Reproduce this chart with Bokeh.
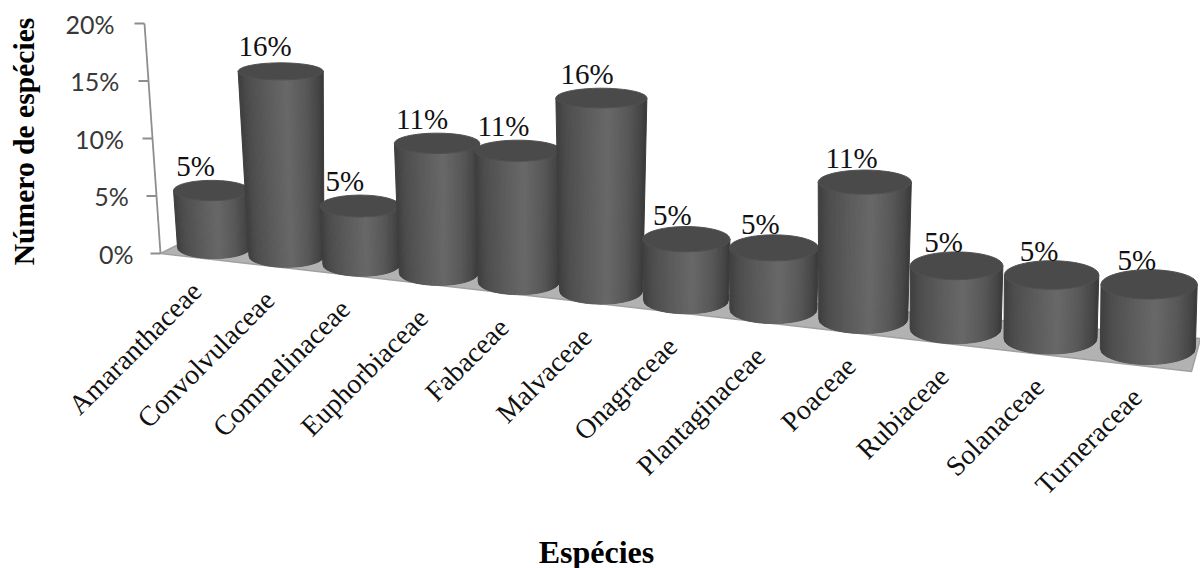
import numpy as np
from bokeh.core.properties import value
from bokeh.embed import file_html
from bokeh.models import ColumnDataSource, Range1d
from bokeh.plotting import figure
from bokeh.resources import INLINE

categories = ["Amaranthaceae", "Convolvulaceae", "Commelinaceae", "Euphorbiaceae",
              "Fabaceae", "Malvaceae", "Onagraceae", "Plantaginaceae",
              "Poaceae", "Rubiaceae", "Solanaceae", "Turneraceae"]
percentages = [5, 16, 5, 11, 11, 16, 5, 5, 11, 5, 5, 5]
y_ticks = [0, 5, 10, 15, 20]
y_title = "Número de espécies"
x_title = "Espécies"

SERIF = "Liberation Serif"
SANS = "Lato"


# Oblique 3D view of the chart box, expressed in screen units.
def base_center_x(i):
    return 213.5 + 71.2 * i + 1.245 * i ** 2


def base_front_y(i):
    return 258 + 8.7 * i + 0.085 * i ** 2


def base_radius_x(i):
    return 36.5 + 1.0 * i


def base_radius_y(i):
    return 11 + 0.45 * i


def units_per_percent(i):
    return 11.4 + 0.13 * i


def cylinder_geometry(i, v):
    rx, ry = base_radius_x(i), base_radius_y(i)
    cx = base_center_x(i)
    cy = base_front_y(i) - ry
    widen = 1 + v * (0.009 - 0.0006 * i)
    lean = 0.1 * (i - 4.6) if i < 4.6 else 0.04 * (i - 4.6)
    top_cx = cx + v * lean
    top_cy = cy - v * units_per_percent(i)
    return (cx, cy, rx, ry), (top_cx, top_cy, rx * widen, ry * (1 - 0.016 * v))


def wall_point(v):
    return 160 - 0.8 * v, 253 - 11.5 * v


def shade(u):
    g = np.interp(u, [-1.0, -0.75, -0.3, 0.15, 0.6, 0.88, 1.0],
                  [0x3e, 0x4e, 0x5c, 0x68, 0x58, 0x46, 0x3a])
    g = int(round(g))
    return f"#{g:02x}{g:02x}{g:02x}"


p = figure(width=1200, height=568, output_backend="svg", toolbar_location=None,
           x_range=Range1d(0, 1200), y_range=Range1d(568, 0),
           min_border=0, outline_line_color=None, background_fill_color="white")
p.axis.visible = False
p.grid.visible = False

# Floor of the chart box
p.patch([160, 176, 1200, 1191], [253, 245, 338, 371], fill_color="#b2b2b2",
        line_color="#a0a0a0", line_width=1.5)

# Value axis on the back wall
ax0, ay0 = wall_point(y_ticks[0])
ax1, ay1 = wall_point(y_ticks[-1])
p.line([ax0, ax1], [ay0, ay1], line_color="#8e8e8e", line_width=1.8)
for t in y_ticks:
    tx, ty = wall_point(t)
    p.line([tx - 10, tx], [ty, ty], line_color="#8e8e8e", line_width=1.8)
p.text([wall_point(t)[0] - 27 - 0.15 * t for t in y_ticks],
       [wall_point(t)[1] for t in y_ticks],
       text=[f"{t}%" for t in y_ticks], text_align="right", text_baseline="middle",
       text_font=value(SANS), text_font_size="25px", text_color="#383838")

# Cylinders, painted left to right so that each overlaps its neighbour
for i, v in enumerate(percentages):
    (cx, cy, rx, ry), (tx, ty, trx, try_) = cylinder_geometry(i, v)
    edges = np.linspace(-1, 1, 73)
    xs, ys, colors = [], [], []
    for a, b in zip(edges[:-1], edges[1:]):
        sa, sb = np.sqrt(1 - a * a), np.sqrt(1 - b * b)
        xs.append([tx + a * trx, tx + b * trx, cx + b * rx, cx + a * rx])
        ys.append([ty + sa * try_, ty + sb * try_, cy + sb * ry, cy + sa * ry])
        colors.append(shade((a + b) / 2))
    src = ColumnDataSource(dict(xs=xs, ys=ys, c=colors))
    p.patches("xs", "ys", source=src, fill_color="c", line_color="c", line_width=1)
    theta = np.linspace(0, 2 * np.pi, 90)
    p.patch(tx + trx * np.cos(theta), ty + try_ * np.sin(theta),
            fill_color="#4a4a4a", line_color="#505050", line_width=1)

# Value labels above each cylinder
label_x, label_y = [], []
for i, v in enumerate(percentages):
    _, (tx, ty, _, _) = cylinder_geometry(i, v)
    label_x.append(tx - 16 + 0.34 * i)
    label_y.append(ty - 25 + 0.1 * i)
p.text(label_x, label_y, text=[f"{v}%" for v in percentages], text_align="center",
       text_baseline="middle", text_font=value(SERIF), text_font_size="29px",
       text_color="#111111")

# Slanted category labels under the front edge
n = np.arange(len(categories))
p.text(base_center_x(n) - 17.5 + 0.62 * n, base_front_y(n) + 28, text=categories,
       angle=np.pi / 4, text_align="right", text_baseline="middle",
       text_font=value(SERIF), text_font_size="28px", text_color="#111111")

# Axis titles
p.text([23], [141], text=[y_title], angle=np.pi / 2, text_align="center",
       text_baseline="middle", text_font=value(SERIF), text_font_size="29.6px",
       text_font_style="bold", text_color="#000000")
p.text([596], [551], text=[x_title], text_align="center", text_baseline="middle",
       text_font=value(SERIF), text_font_size="32px", text_font_style="bold",
       text_color="#000000")

open("out.html", "w").write(file_html(p, INLINE))
